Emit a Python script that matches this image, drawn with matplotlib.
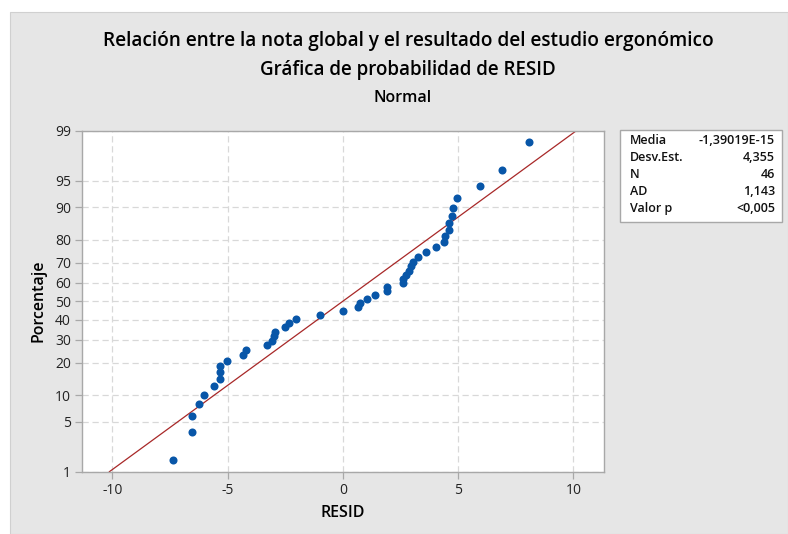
import matplotlib
matplotlib.use("Agg")
import matplotlib.pyplot as plt
from matplotlib.patches import Rectangle
from statistics import NormalDist

# ---- data (residuals, sorted) ----
resid = [-7.36, -6.55, -6.55, -6.26, -6.01, -5.59, -5.35, -5.35, -5.35, -5.01,
         -4.35, -4.20, -3.29, -3.08, -3.00, -2.93, -2.50, -2.35, -2.04, -0.99,
         0.01, 0.64, 0.74, 1.03, 1.38, 1.93, 1.93, 2.59, 2.62, 2.72,
         2.88, 2.96, 3.03, 3.28, 3.61, 4.04, 4.39, 4.43, 4.62, 4.62,
         4.72, 4.77, 4.96, 5.97, 6.91, 8.07]
fit_mean = 0.0
fit_sd = 4.355
pct_ticks = [1, 5, 10, 20, 30, 40, 50, 60, 70, 80, 90, 95, 99]
x_ticks = [-10, -5, 0, 5, 10]
stat_labels = ["Media", "Desv.Est.", "N", "AD", "Valor p"]
stat_values = ["-1,39019E-15", "4,355", "46", "1,143", "<0,005"]
title1 = "Relación entre la nota global y el resultado del estudio ergonómico"
title2 = "Gráfica de probabilidad de RESID"
title3 = "Normal"

nd = NormalDist()
n = len(resid)
z_pts = [nd.inv_cdf((i + 1 - 0.3) / (n + 0.4)) for i in range(n)]

FONT = ["Open Sans", "DejaVu Sans"]
plt.rcParams['font.family'] = FONT

W, H = 788, 534
fig = plt.figure(figsize=(W / 100, H / 100), dpi=100)
fig.patch.set_facecolor("white")
bg = Rectangle((10 / W, 0), 1 - 10 / W, (H - 12) / H,
               transform=fig.transFigure, facecolor="#e6e6e6",
               edgecolor="#d0d0d0", linewidth=0.8, zorder=-10)
fig.patches.append(bg)

ax_l, ax_r, ax_t, ax_b = 82, 604, 130.7, 471.7
ax = fig.add_axes([ax_l / W, (H - ax_b) / H, (ax_r - ax_l) / W, (ax_b - ax_t) / H])
ax.set_zorder(1)
ax.set_facecolor("white")

zlo, zhi = nd.inv_cdf(0.01), nd.inv_cdf(0.99)
ax.set_xlim(-11.32, 11.33)
ax.set_ylim(zlo, zhi)

ax.set_xticks(x_ticks)
ax.set_xticklabels([str(v) for v in x_ticks])
ax.set_yticks([nd.inv_cdf(p / 100) for p in pct_ticks])
ax.set_yticklabels([str(p) for p in pct_ticks])
ax.grid(True, color="#d8d8d8", linestyle=(0, (5, 3)), linewidth=0.9)
ax.set_axisbelow(True)
for s in ax.spines.values():
    s.set_color("#a8a8a8")
    s.set_linewidth(1.0)
ax.tick_params(axis="both", direction="out", length=5, width=0.9, color="#a8a8a8",
               labelsize=10, labelcolor="#222222", pad=3)

# fitted line
zs = [zlo, zhi]
ax.plot([fit_mean + fit_sd * z for z in zs], zs, color="#a82828", linewidth=0.9, zorder=2)
# points
ax.plot(resid, z_pts, linestyle="none", marker="o", markersize=5.8,
        color="#0856a8", markeredgewidth=0, zorder=3)

ax.set_xlabel("RESID", fontsize=11.5, fontweight="semibold", labelpad=5)
ax.set_ylabel("Porcentaje", fontsize=11.5, fontweight="semibold", labelpad=6)

fig.text(408 / W, 1 - 41 / H, title1, ha="center", va="center", fontsize=13.7,
         fontweight="semibold")
fig.text(408 / W, 1 - 70 / H, title2, ha="center", va="center", fontsize=13.5,
         fontweight="semibold")
fig.text(403 / W, 1 - 98 / H, title3, ha="center", va="center", fontsize=11.5,
         fontweight="semibold")

# stats box
bl, bt, br, bb = 620, 130, 782, 222
fig.patches.append(Rectangle((bl / W, 1 - bb / H), (br - bl) / W, (bb - bt) / H,
                             transform=fig.transFigure, facecolor="white",
                             edgecolor="#a8a8a8", linewidth=1.0, zorder=1))
for k, (lab, val) in enumerate(zip(stat_labels, stat_values)):
    yy = 1 - (140.5 + 17 * k) / H
    fig.text(630 / W, yy, lab, ha="left", va="center", fontsize=9,
             fontweight="semibold", color="#111111")
    fig.text(775 / W, yy, val, ha="right", va="center", fontsize=9,
             fontweight="semibold", color="#111111")

fig.savefig("out.png", dpi=100, facecolor=fig.get_facecolor())
